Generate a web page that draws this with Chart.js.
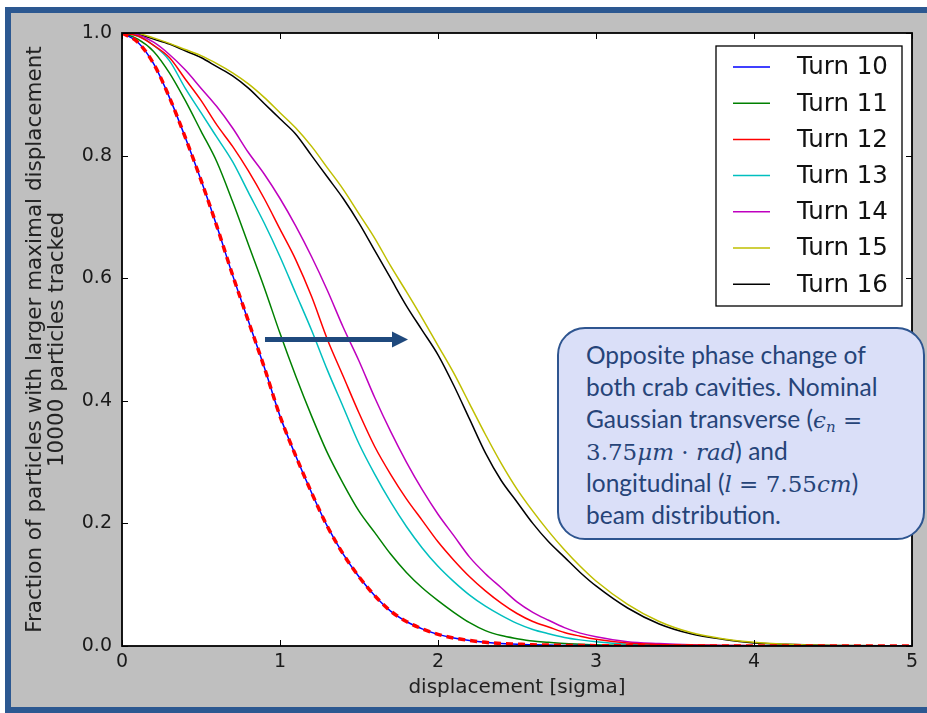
<!DOCTYPE html>
<html>
<head>
<meta charset="utf-8">
<script src="https://cdn.jsdelivr.net/npm/chart.js@4/dist/chart.umd.min.js"></script>
<style>
  html, body { margin: 0; padding: 0; background: #fff; overflow: hidden; }
  #frame {
    position: absolute; left: 5px; top: 7px; width: 940px; height: 694px;
    border: 6px solid #2C5891; background: #BFBFBF;
  }
  #chart { position: absolute; left: 0; top: 0; }
  #note {
    position: absolute; left: 557px; top: 327px; width: 368px; height: 213px;
    box-sizing: border-box; border: 2px solid #2E5590; border-radius: 28px;
    background: #DADFF8; color: #264478;
    font-family: Lato, "Open Sans", sans-serif; font-size: 24.5px;
    padding: 10px 0 0 27px; white-space: nowrap;
  }
  #note div { height: 32px; line-height: 32px; }
  #note .m { font-family: "DejaVu Serif", serif; font-size: 23px; }
  #note .m i { font-style: italic; }
  #note sub { font-size: 15px; font-style: italic; vertical-align: -4px; line-height: 0; }
</style>
</head>
<body>
<div id="frame"></div>
<canvas id="chart" width="927" height="713"></canvas>
<div id="note">
  <div>Opposite phase change of</div>
  <div>both crab cavities. Nominal</div>
  <div>Gaussian transverse (<span class="m"><i>ϵ</i><sub>n</sub> =</span></div>
  <div><span class="m">3.75<i>μm</i> · <i>rad</i></span>) and</div>
  <div>longitudinal (<span class="m"><i>l</i> = 7.55<i>cm</i></span>)</div>
  <div>beam distribution.</div>
</div>
<script>
// displacement samples [sigma]
const xs = [0, 0.1, 0.2, 0.3, 0.4, 0.5, 0.6, 0.7, 0.8, 0.9,
            1.0, 1.1, 1.2, 1.3, 1.4, 1.5, 1.6, 1.7, 1.8, 1.9,
            2.0, 2.1, 2.2, 2.3, 2.4, 2.5, 2.6, 2.7, 2.8, 2.9,
            3.0, 3.2, 3.4, 3.6, 3.8, 4.0, 4.2, 4.5, 5.0];

const turn10 = [1.0, 0.985, 0.95, 0.895, 0.83, 0.76, 0.685, 0.605, 0.53, 0.455,
                0.375, 0.31, 0.25, 0.195, 0.15, 0.113, 0.082, 0.057, 0.04, 0.028,
                0.019, 0.013, 0.009, 0.006, 0.004, 0.003, 0.002, 0.0015, 0.001, 0.001,
                0.0005, 0.0005, 0.0002, 0, 0, 0, 0, 0, 0];
const turn11 = [1.0, 0.99, 0.97, 0.935, 0.89, 0.84, 0.79, 0.725, 0.655, 0.585,
                0.51, 0.44, 0.375, 0.315, 0.265, 0.22, 0.185, 0.15, 0.12, 0.095,
                0.074, 0.055, 0.038, 0.025, 0.017, 0.012, 0.008, 0.006, 0.004, 0.003,
                0.002, 0.001, 0.0005, 0, 0, 0, 0, 0, 0];
const turn12 = [1.0, 0.995, 0.98, 0.96, 0.925, 0.89, 0.85, 0.815, 0.775, 0.73,
                0.68, 0.63, 0.57, 0.5, 0.44, 0.38, 0.325, 0.28, 0.24, 0.205,
                0.17, 0.14, 0.113, 0.09, 0.07, 0.053, 0.04, 0.031, 0.022, 0.016,
                0.011, 0.005, 0.0025, 0.0015, 0.001, 0.0005, 0, 0, 0];
const turn13 = [1.0, 0.995, 0.98, 0.955, 0.91, 0.87, 0.83, 0.79, 0.74, 0.69,
                0.635, 0.575, 0.515, 0.45, 0.39, 0.33, 0.28, 0.235, 0.195, 0.16,
                0.13, 0.105, 0.083, 0.065, 0.05, 0.037, 0.027, 0.02, 0.014, 0.01,
                0.007, 0.003, 0.0015, 0.001, 0.0005, 0, 0, 0, 0];
const turn14 = [1.0, 0.997, 0.985, 0.965, 0.94, 0.91, 0.88, 0.845, 0.805, 0.77,
                0.73, 0.685, 0.635, 0.58, 0.52, 0.465, 0.405, 0.35, 0.3, 0.255,
                0.215, 0.18, 0.145, 0.118, 0.095, 0.072, 0.055, 0.042, 0.03, 0.021,
                0.015, 0.007, 0.004, 0.002, 0.001, 0.0005, 0, 0, 0];
const turn15 = [1.0, 0.999, 0.992, 0.983, 0.973, 0.963, 0.95, 0.935, 0.917, 0.895,
                0.87, 0.845, 0.815, 0.78, 0.745, 0.705, 0.665, 0.62, 0.578, 0.535,
                0.49, 0.445, 0.395, 0.345, 0.298, 0.256, 0.22, 0.187, 0.157, 0.13,
                0.106, 0.068, 0.04, 0.022, 0.012, 0.006, 0.003, 0.001, 0];
const turn16 = [1.0, 0.998, 0.99, 0.982, 0.971, 0.96, 0.945, 0.93, 0.91, 0.885,
                0.86, 0.835, 0.8, 0.765, 0.73, 0.69, 0.645, 0.6, 0.555, 0.515,
                0.475, 0.425, 0.37, 0.315, 0.27, 0.235, 0.2, 0.17, 0.145, 0.12,
                0.098, 0.062, 0.036, 0.02, 0.011, 0.005, 0.003, 0.001, 0];
// red dashed reference curve lying on top of turn 10
const refCurve = [1.0, 0.985, 0.95, 0.895, 0.83, 0.76, 0.685, 0.605, 0.53, 0.455,
                  0.375, 0.31, 0.25, 0.195, 0.15, 0.113, 0.082, 0.057, 0.04, 0.028,
                  0.019, 0.013, 0.009, 0.006, 0.004, 0.003, 0.002, 0.0015, 0.001, 0.001,
                  0.0005, 0.0005, 0.0002, 0, 0, 0, 0, 0, 0];

const labels = ["Turn 10", "Turn 11", "Turn 12", "Turn 13", "Turn 14", "Turn 15", "Turn 16"];
const series = [turn10, turn11, turn12, turn13, turn14, turn15, turn16];
const colors = ["#0000FF", "#008000", "#FF0000", "#00BFBF", "#BF00BF", "#BFBF00", "#000000"];

const xTicks = [0, 1, 2, 3, 4, 5];
const yTicks = [0, 0.2, 0.4, 0.6, 0.8, 1.0];

// arrow annotation (data coords)
const arrowFrom = { x: 0.905, y: 0.5 };
const arrowTo = { x: 1.81, y: 0.5 };

const pts = (ys) => xs.map((x, i) => ({ x, y: ys[i] }));

const datasets = series.map((ys, i) => ({
  label: labels[i],
  data: pts(ys),
  borderColor: colors[i],
  borderWidth: 1.5,
  order: 1
}));
datasets.push({
  label: "",
  data: pts(refCurve),
  borderColor: "#FF0000",
  borderWidth: 3.5,
  borderDash: [7, 5],
  order: 0
});

const tickFont = { family: "DejaVu Sans", size: 19 };

const plotBg = {
  id: "plotBg",
  beforeDraw(chart) {
    const { ctx, chartArea: a } = chart;
    ctx.save();
    ctx.fillStyle = "#fff";
    ctx.fillRect(a.left, a.top, a.right - a.left, a.bottom - a.top);
    ctx.restore();
  }
};

// axes box with inward ticks on all four sides, like the old matplotlib look
const frameTicks = {
  id: "frameTicks",
  afterDatasetsDraw(chart) {
    const { ctx, chartArea: a, scales } = chart;
    ctx.save();
    ctx.strokeStyle = "#000";
    ctx.lineWidth = 1;
    ctx.beginPath();
    xTicks.forEach(v => {
      const px = Math.round(scales.x.getPixelForValue(v)) + 0.5;
      ctx.moveTo(px, a.bottom); ctx.lineTo(px, a.bottom - 6);
      ctx.moveTo(px, a.top); ctx.lineTo(px, a.top + 6);
    });
    yTicks.forEach(v => {
      const py = Math.round(scales.y.getPixelForValue(v)) + 0.5;
      ctx.moveTo(a.left, py); ctx.lineTo(a.left + 6, py);
      ctx.moveTo(a.right, py); ctx.lineTo(a.right - 6, py);
    });
    ctx.stroke();
    ctx.lineWidth = 1.8;
    ctx.strokeRect(a.left, a.top, a.right - a.left, a.bottom - a.top);
    ctx.restore();
  }
};

const arrow = {
  id: "arrow",
  afterDatasetsDraw(chart) {
    const { ctx, scales } = chart;
    const x1 = scales.x.getPixelForValue(arrowFrom.x);
    const x2 = scales.x.getPixelForValue(arrowTo.x);
    const y = scales.y.getPixelForValue(arrowFrom.y);
    ctx.save();
    ctx.fillStyle = "#1F497D";
    ctx.fillRect(x1, y - 2.5, x2 - x1 - 15, 5);
    ctx.beginPath();
    ctx.moveTo(x2, y);
    ctx.lineTo(x2 - 16, y - 8);
    ctx.lineTo(x2 - 16, y + 8);
    ctx.closePath();
    ctx.fill();
    ctx.restore();
  }
};

const legendBox = {
  id: "legendBox",
  afterDatasetsDraw(chart) {
    const { ctx, chartArea: a } = chart;
    const items = chart.data.datasets.filter(d => d.label);
    const w = 186, h = 260, rowH = 36.2;
    const x0 = a.right - 10 - w, y0 = a.top + 13;
    ctx.save();
    ctx.fillStyle = "#fff";
    ctx.fillRect(x0, y0, w, h);
    ctx.strokeStyle = "#000";
    ctx.lineWidth = 1.3;
    ctx.strokeRect(x0, y0, w, h);
    ctx.font = '24.5px "DejaVu Sans"';
    ctx.textBaseline = "middle";
    items.forEach((d, i) => {
      const y = y0 + 21 + i * rowH;
      ctx.strokeStyle = d.borderColor;
      ctx.lineWidth = 1.5;
      ctx.beginPath();
      ctx.moveTo(x0 + 17, y);
      ctx.lineTo(x0 + 54, y);
      ctx.stroke();
      ctx.fillStyle = "#111";
      ctx.fillText(d.label, x0 + 81, y + 1);
    });
    ctx.restore();
  }
};

new Chart(document.getElementById("chart"), {
  type: "line",
  data: { datasets },
  plugins: [plotBg, frameTicks, arrow, legendBox],
  options: {
    responsive: false,
    animation: false,
    devicePixelRatio: 1,
    layout: { padding: { left: 0, top: 33, right: 15, bottom: 0 } },
    elements: {
      point: { radius: 0 },
      line: { cubicInterpolationMode: "monotone", fill: false }
    },
    plugins: { legend: { display: false }, tooltip: { enabled: false } },
    scales: {
      x: {
        type: "linear", min: 0, max: 5,
        afterFit(s) { s.height = 67; },
        afterBuildTicks(s) { s.ticks = xTicks.map(v => ({ value: v })); },
        grid: { display: false, drawTicks: false },
        border: { display: false },
        ticks: { font: tickFont, color: "#1a1a1a", padding: 5, autoSkip: false, maxRotation: 0 },
        title: {
          display: true, text: "displacement [sigma]", color: "#222",
          font: { family: "DejaVu Sans", size: 20, lineHeight: 1.2 },
          padding: { top: 0, bottom: 13 }
        }
      },
      y: {
        type: "linear", min: 0, max: 1,
        afterFit(s) { s.width = 122; },
        afterBuildTicks(s) { s.ticks = yTicks.map(v => ({ value: v })); },
        grid: { display: false, drawTicks: false },
        border: { display: false },
        ticks: { font: tickFont, color: "#1a1a1a", padding: 10, callback: v => v.toFixed(1) },
        title: {
          display: true,
          text: ["Fraction of particles with larger maximal displacement", "10000 particles tracked"],
          color: "#222",
          font: { family: "DejaVu Sans", size: 21.5, lineHeight: 22 / 21.5 },
          padding: { top: 24, bottom: 0 }
        }
      }
    }
  }
});
</script>
</body>
</html>
